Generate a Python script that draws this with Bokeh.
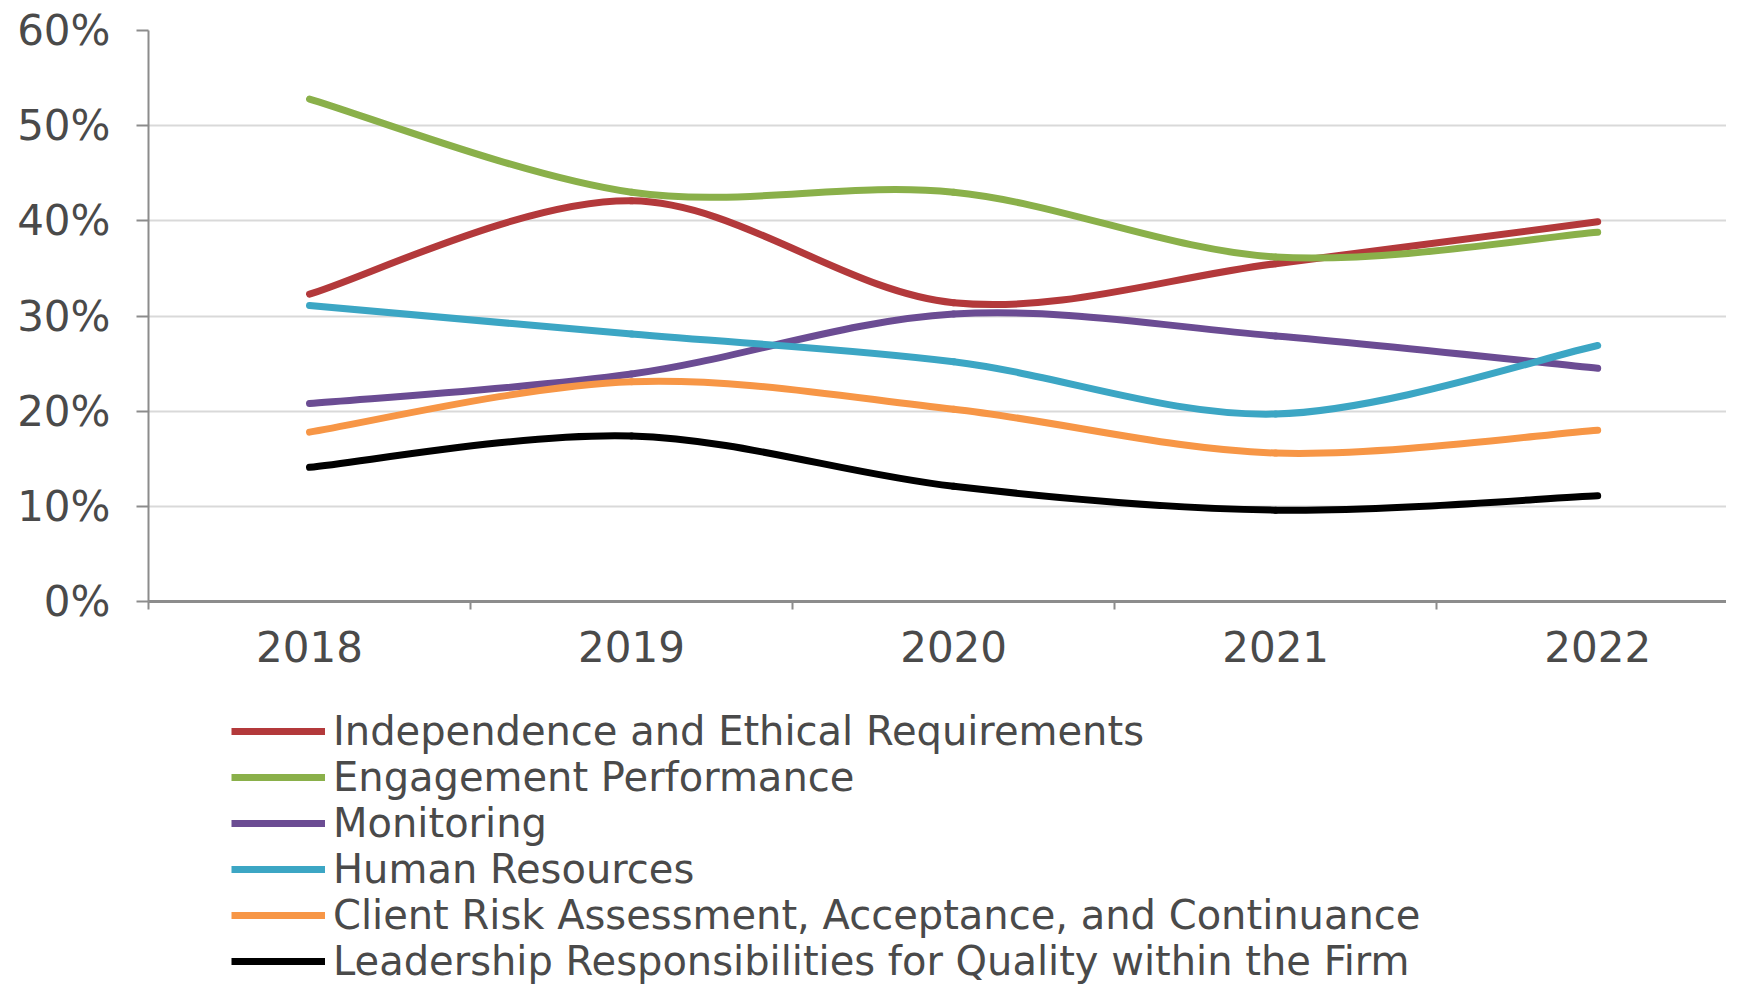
from bokeh.plotting import figure
from bokeh.layouts import column
from bokeh.models import FixedTicker, Legend, LegendItem, ColumnDataSource, PrintfTickFormatter, Range1d
from bokeh.embed import file_html
from bokeh.resources import INLINE

years = ["2018", "2019", "2020", "2021", "2022"]
independence = [32.3, 42.1, 31.4, 35.5, 39.9]
engagement = [52.8, 43.0, 43.0, 36.2, 38.8]
monitoring = [20.8, 23.9, 30.2, 27.9, 24.5]
human_resources = [31.1, 28.1, 25.2, 19.7, 26.9]
client_risk = [17.8, 23.1, 20.2, 15.6, 18.0]
leadership = [14.1, 17.4, 12.1, 9.6, 11.1]

series_names = [
    "Independence and Ethical Requirements",
    "Engagement Performance",
    "Monitoring",
    "Human Resources",
    "Client Risk Assessment, Acceptance, and Continuance",
    "Leadership Responsibilities for Quality within the Firm",
]
series_values = [independence, engagement, monitoring, human_resources, client_risk, leadership]
colors = ["#B3393B", "#8AB04A", "#6B4C93", "#3CA6C4", "#F79646", "#000000"]

FONT = "DejaVu Sans"
TXT = "#4a4a4a"
LW = 7

p = figure(width=1726, height=690, output_backend="svg", toolbar_location=None,
           x_range=Range1d(-0.5, 4.40), y_range=Range1d(0, 60),
           min_border_left=148, min_border_right=0, min_border_top=30, min_border_bottom=89)
p.outline_line_color = None
p.background_fill_color = "white"

# y axis
p.yaxis.ticker = FixedTicker(ticks=[0, 10, 20, 30, 40, 50, 60])
p.yaxis.formatter = PrintfTickFormatter(format="%d%%")
p.yaxis.axis_line_color = "#8c8c8c"
p.yaxis.axis_line_width = 2
p.yaxis.major_tick_line_color = "#8c8c8c"
p.yaxis.major_tick_line_width = 2
p.yaxis.major_tick_out = 12
p.yaxis.major_tick_in = 0
p.yaxis.minor_tick_line_color = None
p.yaxis.major_label_standoff = 26
p.yaxis.major_label_text_font = FONT
p.yaxis.major_label_text_font_size = "42px"
p.yaxis.major_label_text_color = TXT

# x axis: labels at category centres, tick marks between categories
p.xaxis.ticker = FixedTicker(ticks=list(range(len(years))),
                             minor_ticks=[i - 0.5 for i in range(len(years) + 1)])
p.xaxis.major_label_overrides = {i: y for i, y in enumerate(years)}
p.xaxis.axis_line_color = "#8c8c8c"
p.xaxis.axis_line_width = 3
p.xaxis.major_tick_line_color = None
p.xaxis.major_tick_out = 0
p.xaxis.major_tick_in = 0
p.xaxis.minor_tick_line_color = "#8c8c8c"
p.xaxis.minor_tick_line_width = 2
p.xaxis.minor_tick_out = 8
p.xaxis.minor_tick_in = 0
p.xaxis.major_label_standoff = 21
p.xaxis.major_label_text_font = FONT
p.xaxis.major_label_text_font_size = "42px"
p.xaxis.major_label_text_color = TXT

p.xgrid.grid_line_color = None
p.ygrid.ticker = FixedTicker(ticks=[10, 20, 30, 40, 50, 60])
p.ygrid.grid_line_color = "#d9d9d9"
p.ygrid.grid_line_width = 2

xs = list(range(len(years)))


def smooth_segments(vals):
    n = len(vals)
    pts = list(zip(xs, vals))
    x0, y0, x1, y1, cx0, cy0, cx1, cy1 = [], [], [], [], [], [], [], []
    for i in range(n - 1):
        pm = pts[max(i - 1, 0)]
        pa = pts[i]
        pb = pts[i + 1]
        pn = pts[min(i + 2, n - 1)]
        x0.append(pa[0]); y0.append(pa[1])
        x1.append(pb[0]); y1.append(pb[1])
        cx0.append(pa[0] + (pb[0] - pm[0]) / 6.0)
        cy0.append(pa[1] + (pb[1] - pm[1]) / 6.0)
        cx1.append(pb[0] - (pn[0] - pa[0]) / 6.0)
        cy1.append(pb[1] - (pn[1] - pa[1]) / 6.0)
    return dict(x0=x0, y0=y0, x1=x1, y1=y1, cx0=cx0, cy0=cy0, cx1=cx1, cy1=cy1)


for name, vals, col in zip(series_names, series_values, colors):
    src = ColumnDataSource(smooth_segments(vals))
    p.bezier(x0="x0", y0="y0", x1="x1", y1="y1", cx0="cx0", cy0="cy0", cx1="cx1", cy1="cy1",
             source=src, line_color=col, line_width=LW, line_cap="round")

# legend panel underneath the chart (same left border so both frames align)
p2 = figure(width=1726, height=294, output_backend="svg", toolbar_location=None,
            x_range=Range1d(0, 1), y_range=Range1d(0, 1),
            x_axis_location=None, y_axis_location=None,
            min_border_left=148, min_border_right=0, min_border_top=0, min_border_bottom=0)
p2.outline_line_color = None
p2.grid.visible = False

items = []
for name, vals, col in zip(series_names, series_values, colors):
    # the same series, drawn in a panel whose ranges hide it: only its legend key shows
    r = p2.line(x=[-10 - i for i in range(len(vals))], y=vals, line_color=col, line_width=LW)
    items.append(LegendItem(label=name, renderers=[r]))

legend = Legend(items=items, location=(83, 0), orientation="vertical",
                label_text_font=FONT, label_text_font_size="40px", label_text_color=TXT,
                glyph_width=94, glyph_height=40, label_height=40, spacing=0,
                label_standoff=8, padding=0, margin=0,
                border_line_color=None, background_fill_alpha=0)
p2.add_layout(legend, "center")

layout = column(p, p2, spacing=0)
open("out.html", "w").write(file_html(layout, INLINE))
